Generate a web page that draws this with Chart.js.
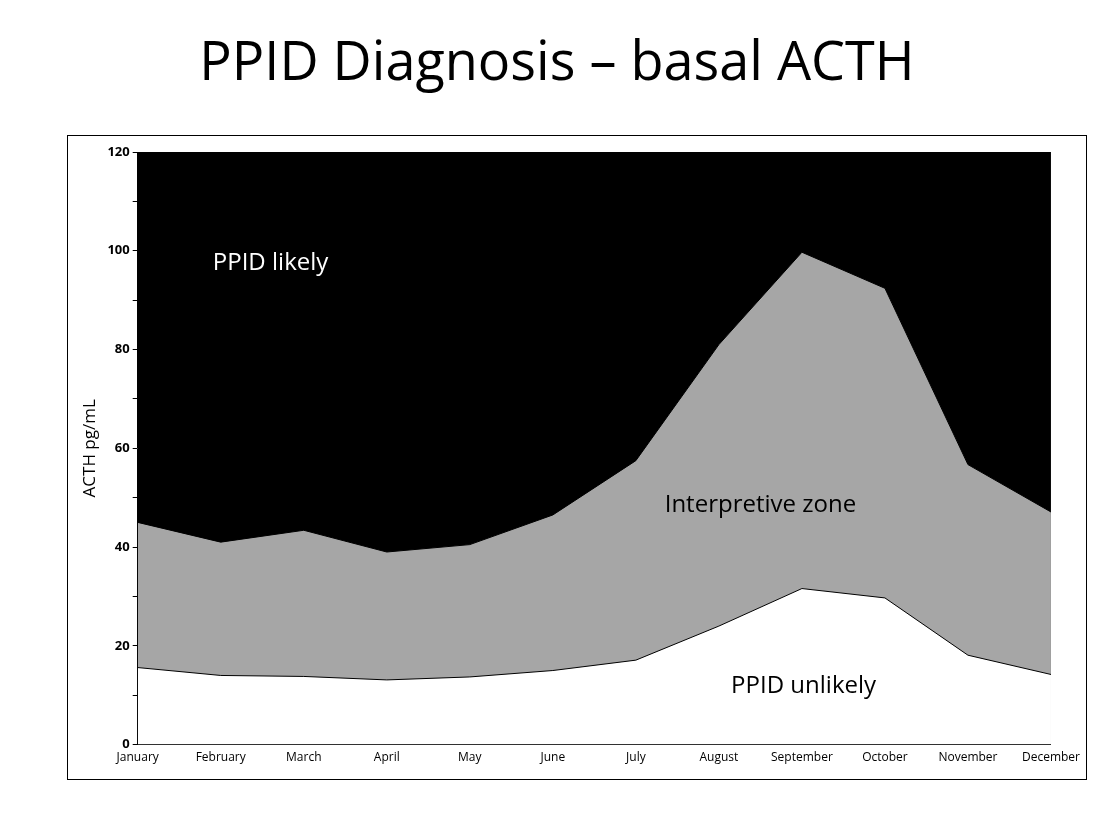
<!DOCTYPE html>
<html>
<head>
<meta charset="utf-8">
<script src="https://cdn.jsdelivr.net/npm/chart.js@4/dist/chart.umd.min.js"></script>
<style>
  body { margin: 0; background: #fff; font-family: "Open Sans", "Liberation Sans", sans-serif; }
  h1 { position: absolute; left: 0; width: 1114px; top: 22px; margin: 0; text-align: center; font-weight: 400; font-size: 54px; color: #000; }
  .frame { position: absolute; left: 67px; top: 135px; width: 1018px; height: 643px; border: 1px solid #000; }
</style>
</head>
<body>
<h1>PPID Diagnosis – basal ACTH</h1>
<div class="frame"><canvas id="chart" width="1018" height="643"></canvas></div>
<script>
const months = ['January', 'February', 'March', 'April', 'May', 'June', 'July', 'August', 'September', 'October', 'November', 'December'];
const unlikelyUpper = [15.6, 14.0, 13.8, 13.1, 13.7, 15.0, 17.1, 24.0, 31.6, 29.7, 18.1, 14.2];
const interpretiveUpper = [45.0, 41.0, 43.4, 39.0, 40.5, 46.5, 57.5, 81.0, 99.7, 92.4, 56.7, 47.1];
const likelyUpper = months.map(() => 120);
const zoneLabels = [
  { text: 'PPID likely', x: 1.6, y: 97.5, color: '#fff' },
  { text: 'Interpretive zone', x: 7.5, y: 48.5, color: '#000' },
  { text: 'PPID unlikely', x: 8.02, y: 11.8, color: '#000' }
];

const labelPlugin = {
  id: 'zoneLabels',
  afterDatasetsDraw(chart) {
    const { ctx, scales } = chart;
    ctx.save();
    ctx.font = '24px "Open Sans", "Liberation Sans", sans-serif';
    ctx.textAlign = 'center';
    ctx.textBaseline = 'middle';
    zoneLabels.forEach(l => {
      ctx.fillStyle = l.color;
      ctx.fillText(l.text, scales.x.getPixelForValue(l.x), scales.y.getPixelForValue(l.y));
    });
    ctx.restore();
  }
};

new Chart(document.getElementById('chart'), {
  type: 'line',
  data: {
    labels: months,
    datasets: [
      { data: unlikelyUpper, fill: 'origin', backgroundColor: '#fff', borderColor: '#000', borderWidth: 1, pointRadius: 0, tension: 0 },
      { data: interpretiveUpper, fill: 'origin', backgroundColor: '#a6a6a6', borderColor: '#000', borderWidth: 1, pointRadius: 0, tension: 0 },
      { data: likelyUpper, fill: 'origin', backgroundColor: '#000', borderColor: '#000', borderWidth: 0, pointRadius: 0, tension: 0 }
    ]
  },
  options: {
    responsive: false,
    animation: false,
    layout: { padding: { left: 8, right: 12, top: 16, bottom: 8 } },
    plugins: { legend: { display: false }, tooltip: { enabled: false } },
    scales: {
      x: {
        offset: false,
        grid: { drawOnChartArea: false, drawTicks: false, color: '#000' },
        border: { color: '#000' },
        ticks: { color: '#000', font: { size: 12, family: '"Open Sans", "Liberation Sans", sans-serif' }, maxRotation: 0, autoSkip: false, padding: 6 }
      },
      y: {
        min: 0, max: 120,
        grid: { drawOnChartArea: false, drawTicks: true, tickLength: 5, color: '#000' },
        border: { color: '#000' },
        ticks: {
          stepSize: 10, color: '#000',
          font: { size: 13, weight: 'bold', family: '"Open Sans", "Liberation Sans", sans-serif' },
          callback: v => (v % 20 === 0 ? v : '')
        },
        title: { display: true, text: 'ACTH pg/mL', color: '#000', font: { size: 17, family: '"Open Sans", "Liberation Sans", sans-serif' } }
      }
    }
  },
  plugins: [labelPlugin]
});
</script>
</body>
</html>
